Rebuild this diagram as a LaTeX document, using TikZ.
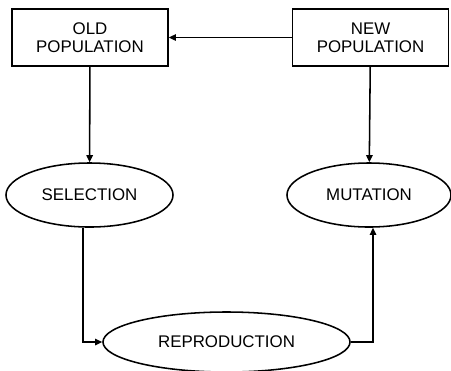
\documentclass[tikz,border=0pt]{standalone}
\usepackage{fontspec}
\setmainfont{Liberation Sans}
\usetikzlibrary{shapes.geometric,arrows.meta}

\tikzset{
  popbox/.style={draw, line width=1.1pt, minimum width=3.9cm, minimum height=1.425cm,
    align=center, font=\fontsize{12}{13}\selectfont},
  stage/.style={draw, ellipse, line width=1.1pt, inner sep=0pt,
    font=\fontsize{12}{13}\selectfont},
  flow/.style={-{Triangle[length=5pt,width=4.5pt]}, line width=1.1pt}
}

\begin{document}
\begin{tikzpicture}[x=0.025cm,y=-0.025cm]
  \useasboundingbox (0,0) rectangle (451,370);

  \node[popbox] (oldpop) at (90,37.5) {OLD\\POPULATION};
  \node[popbox] (newpop) at (370.5,37.5) {NEW\\POPULATION};

  \node[stage, minimum width=4.175cm, minimum height=1.6cm] (selection) at (89.5,195) {SELECTION};
  \node[stage, minimum width=4.1cm, minimum height=1.6cm] (mutation) at (369,195) {MUTATION};
  \node[stage, minimum width=6.175cm, minimum height=1.5cm] (reproduction) at (226.5,342) {REPRODUCTION};

  \draw[flow] (newpop) -- (oldpop);
  \draw[flow] (oldpop) -- (selection);
  \draw[flow] (newpop) -- (mutation);
  \draw[flow] ([xshift=-0.16cm]selection.south) |- (reproduction.west);
  \draw[flow] (reproduction.east) -| ([xshift=0.1cm]mutation.south);

\end{tikzpicture}
\end{document}
